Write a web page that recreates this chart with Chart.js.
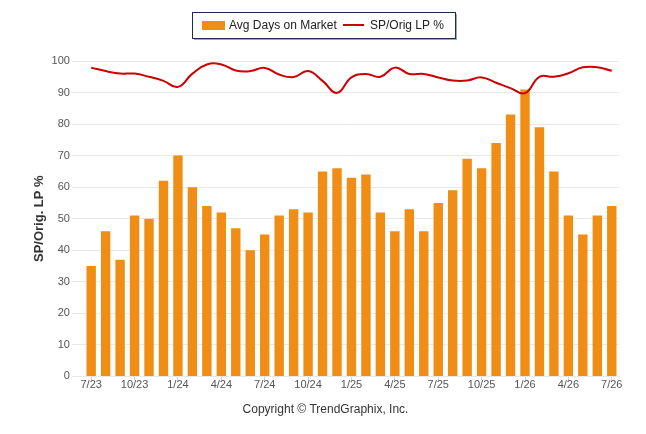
<!DOCTYPE html>
<html>
<head>
<meta charset="utf-8">
<script src="https://cdn.jsdelivr.net/npm/chart.js@4.4.1/dist/chart.umd.min.js"></script>
<style>
  html, body { margin: 0; padding: 0; background: #fff; }
  #wrap { width: 646px; height: 434px; position: relative; }
</style>
</head>
<body>
<div id="wrap"><canvas id="domChart"></canvas></div>
<script>
(function () {
    'use strict';

    // ── Data ──────────────────────────────────────────────────────────────────
    const months = [
        '7/23', '8/23', '9/23', '10/23', '11/23', '12/23',
        '1/24', '2/24', '3/24', '4/24', '5/24', '6/24',
        '7/24', '8/24', '9/24', '10/24', '11/24', '12/24',
        '1/25', '2/25', '3/25', '4/25', '5/25', '6/25',
        '7/25', '8/25', '9/25', '10/25', '11/25', '12/25',
        '1/26', '2/26', '3/26', '4/26', '5/26', '6/26', '7/26'
    ];
    const avgDays = [
        35, 46, 37, 51, 50, 62,
        70, 60, 54, 52, 47, 40,
        45, 51, 53, 52, 65, 66,
        63, 64, 52, 46, 53, 46,
        55, 59, 69, 66, 74, 83,
        91, 79, 65, 51, 45, 51, 54
    ];
    const spOrigPct = [
        97.9, 96.8, 96.0, 96.0, 95.0, 93.7,
        91.8, 96.0, 98.9, 98.9, 97.0, 96.8,
        97.8, 95.7, 94.9, 96.8, 93.7, 89.9,
        94.8, 95.9, 95.0, 97.9, 95.9, 95.9,
        94.8, 93.8, 93.8, 94.8, 93.1, 91.4,
        89.8, 95.0, 95.0, 96.1, 98.0, 98.0, 96.9
    ];
    const yTicks = [0, 10, 20, 30, 40, 50, 60, 70, 80, 90, 100];

    const COLORS = {
        bar:  '#F08D14',
        line: '#CC0000',
        grid: '#E8E8E8',
        tick: '#555555',
        text: '#333333',
    };

    const FONT = '"Liberation Sans", Arial, sans-serif';
    Chart.defaults.font.family = FONT;
    Chart.defaults.color = COLORS.tick;

    // ── Boxed legend drawn at the top ─────────────────────────────────────────
    const boxedLegend = {
        id: 'boxedLegend',
        afterDraw(chart) {
            const ctx = chart.ctx;
            const bars = chart.data.datasets.find(d => d.type === 'bar');
            const line = chart.data.datasets.find(d => d.type === 'line');
            const bx = 192, by = 12, bw = 263, bh = 26;
            ctx.save();
            // shadow
            ctx.fillStyle = 'rgba(0,0,0,.35)';
            ctx.fillRect(bx + 2, by + 2, bw, bh);
            ctx.fillStyle = '#fff';
            ctx.fillRect(bx, by, bw, bh);
            ctx.strokeStyle = '#1F2D4A';
            ctx.lineWidth = 1;
            ctx.strokeRect(bx + 0.5, by + 0.5, bw, bh);

            ctx.font = '12px ' + FONT;
            ctx.textBaseline = 'middle';
            const cy = by + bh / 2;

            ctx.fillStyle = bars.backgroundColor;
            ctx.fillRect(202, cy - 4, 23, 9);
            ctx.fillStyle = '#222';
            ctx.fillText(bars.label, 229, cy + 1);

            ctx.strokeStyle = line.borderColor;
            ctx.lineWidth = 2;
            ctx.beginPath();
            ctx.moveTo(343, cy);
            ctx.lineTo(364, cy);
            ctx.stroke();
            ctx.fillText(line.label, 370, cy + 1);
            ctx.restore();
        }
    };

    new Chart(document.getElementById('domChart'), {
        data: {
            labels: months,
            datasets: [
                {
                    type: 'line',
                    label: 'SP/Orig LP %',
                    data: spOrigPct,
                    borderColor: COLORS.line,
                    backgroundColor: COLORS.line,
                    borderWidth: 2,
                    pointRadius: 0,
                    tension: 0.45,
                    order: 0,
                },
                {
                    type: 'bar',
                    label: 'Avg Days on Market',
                    data: avgDays,
                    backgroundColor: COLORS.bar,
                    barPercentage: 0.65,
                    categoryPercentage: 1,
                    order: 1,
                }
            ]
        },
        options: {
            responsive: true,
            maintainAspectRatio: false,
            animation: false,
            layout: { padding: { top: 61, right: 27, left: 32, bottom: 10 } },
            plugins: {
                legend: { display: false },
                tooltip: { enabled: false },
                subtitle: {
                    display: true,
                    position: 'bottom',
                    text: 'Copyright © TrendGraphix, Inc.',
                    color: COLORS.text,
                    font: { size: 12 },
                    padding: { top: 13, bottom: 7 },
                }
            },
            scales: {
                x: {
                    grid: {
                        drawOnChartArea: false,
                        offset: false,
                        tickLength: 4,
                        color: c => (c.index % 3 === 0 ? '#D0D0D0' : 'rgba(0,0,0,0)'),
                    },
                    border: { color: COLORS.grid },
                    ticks: {
                        autoSkip: false,
                        maxRotation: 0,
                        color: COLORS.tick,
                        font: { size: 11 },
                        padding: -2,
                        callback: (v, i) => (i % 3 === 0 ? months[i] : '')
                    }
                },
                y: {
                    min: 0,
                    max: 100,
                    afterBuildTicks: axis => { axis.ticks = yTicks.map(v => ({ value: v })); },
                    grid: { color: COLORS.grid, tickLength: 12 },
                    border: { display: false },
                    ticks: { color: COLORS.tick, font: { size: 11 }, padding: 2 },
                    title: {
                        display: true,
                        text: 'SP/Orig. LP %',
                        color: COLORS.text,
                        font: { size: 13, weight: 'bold' },
                        padding: { top: 0, bottom: 2 },
                    }
                }
            }
        },
        plugins: [boxedLegend]
    });
})();
</script>
</body>
</html>
